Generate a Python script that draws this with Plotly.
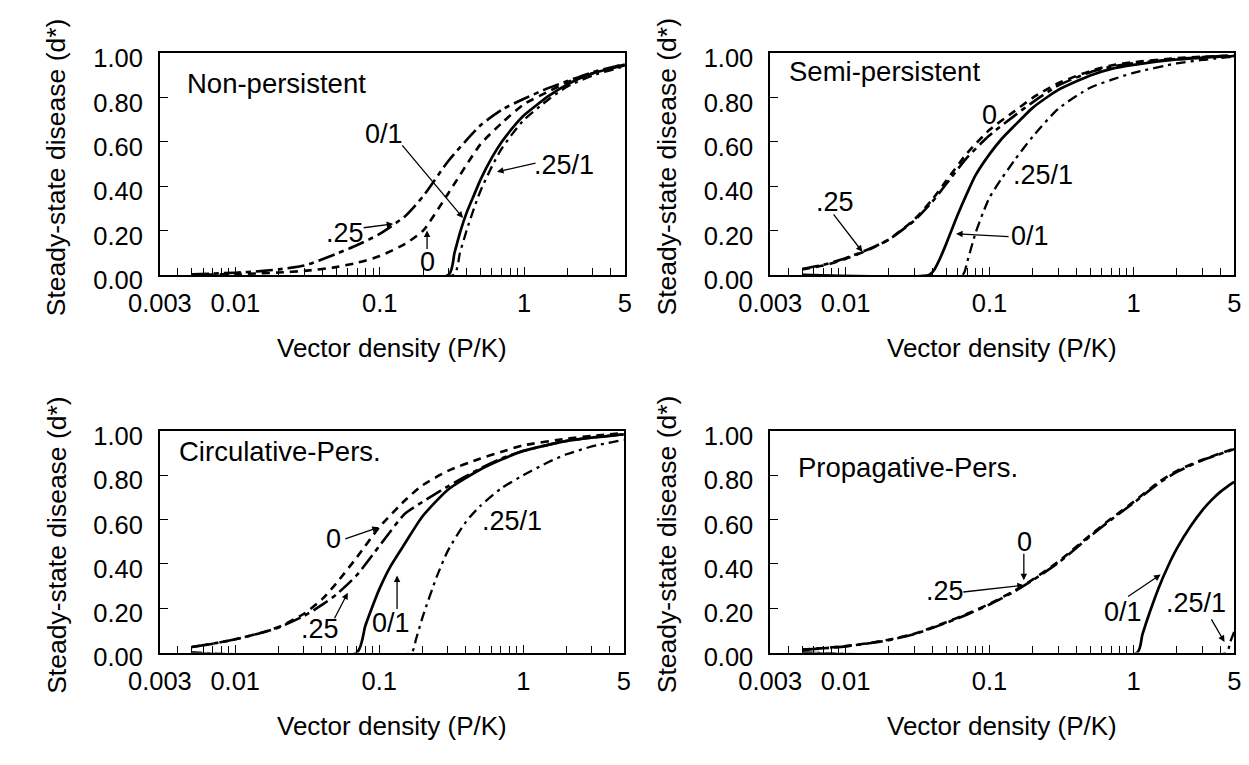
import numpy as np
import plotly.graph_objects as go

W, H = 1249, 765
FONT = "Liberation Sans, Arial, Helvetica, sans-serif"

# ---------------- data ----------------
panel_names = ["Non-persistent", "Semi-persistent", "Circulative-Pers.", "Propagative-Pers."]
curve_names = ["0", ".25", "0/1", ".25/1"]

# Panel 1: Non-persistent
np_x_dash = [0.005, 0.007, 0.01, 0.015, 0.02, 0.03, 0.05, 0.07, 0.1, 0.15, 0.2, 0.3, 0.5, 0.7, 1, 1.5, 2, 3, 5]
np_y_0    = [0.001, 0.002, 0.004, 0.007, 0.011, 0.018, 0.035, 0.055, 0.085, 0.14, 0.20, 0.37, 0.59, 0.685, 0.77, 0.83, 0.87, 0.91, 0.95]
np_y_025  = [0.003, 0.006, 0.010, 0.017, 0.025, 0.042, 0.095, 0.135, 0.185, 0.265, 0.355, 0.515, 0.675, 0.745, 0.795, 0.845, 0.875, 0.915, 0.952]
np_x_01   = [0.005, 0.30, 0.33, 0.36, 0.40, 0.45, 0.50, 0.60, 0.70, 0.85, 1, 1.5, 2, 3, 5]
np_y_01   = [0.0, 0.0, 0.10, 0.19, 0.28, 0.36, 0.43, 0.53, 0.60, 0.67, 0.72, 0.81, 0.86, 0.91, 0.945]
np_x_251  = [0.005, 0.325, 0.36, 0.40, 0.45, 0.50, 0.60, 0.70, 0.85, 1, 1.5, 2, 3, 5]
np_y_251  = [0.0, 0.0, 0.10, 0.20, 0.30, 0.38, 0.49, 0.57, 0.645, 0.70, 0.795, 0.85, 0.90, 0.942]

# Panel 2: Semi-persistent
sp_x_dash = [0.005, 0.007, 0.01, 0.015, 0.02, 0.03, 0.04, 0.05, 0.07, 0.1, 0.15, 0.2, 0.3, 0.5, 0.7, 1, 2, 3, 5]
sp_y_0    = [0.025, 0.042, 0.072, 0.118, 0.16, 0.25, 0.34, 0.425, 0.55, 0.655, 0.74, 0.80, 0.865, 0.92, 0.945, 0.96, 0.978, 0.985, 0.99]
sp_y_025  = [0.027, 0.045, 0.075, 0.12, 0.16, 0.245, 0.33, 0.41, 0.53, 0.63, 0.72, 0.78, 0.855, 0.915, 0.94, 0.955, 0.975, 0.983, 0.99]
sp_x_01   = [0.005, 0.038, 0.041, 0.045, 0.05, 0.06, 0.07, 0.08, 0.1, 0.12, 0.15, 0.2, 0.3, 0.5, 0.7, 1, 2, 3, 5]
sp_y_01   = [0.0, 0.0, 0.02, 0.07, 0.14, 0.27, 0.37, 0.45, 0.545, 0.61, 0.675, 0.755, 0.835, 0.90, 0.93, 0.948, 0.972, 0.98, 0.988]
sp_x_251  = [0.005, 0.065, 0.07, 0.08, 0.09, 0.1, 0.12, 0.15, 0.2, 0.3, 0.5, 0.7, 1, 2, 3, 5]
sp_y_251  = [0.0, 0.0, 0.06, 0.19, 0.28, 0.35, 0.43, 0.52, 0.625, 0.75, 0.845, 0.88, 0.912, 0.955, 0.97, 0.985]

# Panel 3: Circulative-persistent
cp_x_dash = [0.005, 0.007, 0.01, 0.015, 0.02, 0.03, 0.04, 0.05, 0.07, 0.1, 0.15, 0.2, 0.3, 0.5, 0.7, 1, 2, 3, 5]
cp_y_0    = [0.025, 0.04, 0.06, 0.088, 0.115, 0.175, 0.24, 0.31, 0.43, 0.565, 0.685, 0.755, 0.82, 0.875, 0.905, 0.935, 0.965, 0.978, 0.99]
cp_y_025  = [0.025, 0.04, 0.06, 0.088, 0.113, 0.165, 0.215, 0.26, 0.35, 0.48, 0.625, 0.68, 0.75, 0.83, 0.875, 0.91, 0.955, 0.97, 0.985]
cp_x_01   = [0.005, 0.07, 0.08, 0.09, 0.1, 0.12, 0.15, 0.2, 0.3, 0.5, 0.7, 1, 2, 3, 5]
cp_y_01   = [0.0, 0.0, 0.12, 0.21, 0.285, 0.39, 0.49, 0.615, 0.735, 0.825, 0.87, 0.91, 0.955, 0.97, 0.985]
cp_x_251  = [0.005, 0.167, 0.18, 0.2, 0.25, 0.3, 0.4, 0.5, 0.7, 1, 1.5, 2, 3, 5]
cp_y_251  = [0.0, 0.0, 0.06, 0.16, 0.34, 0.46, 0.59, 0.66, 0.74, 0.80, 0.86, 0.895, 0.93, 0.96]

# Panel 4: Propagative-persistent
pp_x_dash = [0.005, 0.007, 0.01, 0.015, 0.02, 0.03, 0.05, 0.07, 0.1, 0.15, 0.2, 0.3, 0.5, 0.7, 1, 1.5, 2, 3, 5]
pp_y_0    = [0.013, 0.02, 0.029, 0.044, 0.058, 0.085, 0.137, 0.175, 0.22, 0.28, 0.33, 0.41, 0.53, 0.605, 0.68, 0.77, 0.82, 0.87, 0.92]
pp_y_025  = [0.012, 0.019, 0.028, 0.043, 0.056, 0.083, 0.134, 0.172, 0.217, 0.277, 0.327, 0.405, 0.525, 0.60, 0.675, 0.765, 0.815, 0.868, 0.918]
pp_x_01   = [0.005, 1.06, 1.15, 1.3, 1.5, 1.75, 2, 2.5, 3, 3.5, 4, 4.5, 5]
pp_y_01   = [0.0, 0.0, 0.08, 0.185, 0.295, 0.395, 0.47, 0.572, 0.642, 0.69, 0.725, 0.75, 0.77]
pp_x_251  = [0.005, 4.4, 4.7, 5]
pp_y_251  = [0.0, 0.0, 0.05, 0.095]

x_tick_vals = [0.003, 0.01, 0.1, 1, 5]
x_tick_text = ["0.003", "0.01", "0.1", "1", "5"]
x_minor_vals = [0.004, 0.005, 0.006, 0.007, 0.008, 0.009,
                0.02, 0.03, 0.04, 0.05, 0.06, 0.07, 0.08, 0.09,
                0.2, 0.3, 0.4, 0.5, 0.6, 0.7, 0.8, 0.9, 2, 3, 4]
y_tick_vals = [0.0, 0.2, 0.4, 0.6, 0.8, 1.0]

panels_data = [
    {"0": (np_x_dash, np_y_0), ".25": (np_x_dash, np_y_025), "0/1": (np_x_01, np_y_01), ".25/1": (np_x_251, np_y_251)},
    {"0": (sp_x_dash, sp_y_0), ".25": (sp_x_dash, sp_y_025), "0/1": (sp_x_01, sp_y_01), ".25/1": (sp_x_251, sp_y_251)},
    {"0": (cp_x_dash, cp_y_0), ".25": (cp_x_dash, cp_y_025), "0/1": (cp_x_01, cp_y_01), ".25/1": (cp_x_251, cp_y_251)},
    {"0": (pp_x_dash, pp_y_0), ".25": (pp_x_dash, pp_y_025), "0/1": (pp_x_01, pp_y_01), ".25/1": (pp_x_251, pp_y_251)},
]

# ---------------- layout geometry (pixels) ----------------
# (left, right, top, bottom) of each plot box
boxes = [(132, 612, 46, 276), (762, 1241, 46, 276), (132, 611, 438, 668), (762, 1241, 438, 668)]

line_styles = {
    "0": ("8px,6px", 2.6),
    ".25": ("17px,5px,5px,5px", 2.6),
    "0/1": ("solid", 2.7),
    ".25/1": ("10px,5px,3px,5px", 2.3),
}

# panel title: (left px, center y px)
title_pos = [(158, 77), (779, 65), (150, 459), (789, 476)]

# curve labels: (text, cx px, cy px)
labels = [
    [("0/1", 363, 130), (".25", 323, 232), ("0", 408, 263), (".25/1", 549, 162)],
    [("0", 988, 110), (".25", 829, 200), (".25/1", 1044, 172), ("0/1", 1030, 236)],
    [("0", 311, 550), (".25", 297, 644), ("0/1", 371, 637), (".25/1", 495, 531)],
    [("0", 1024, 553), (".25", 942, 604), ("0/1", 1126, 626), (".25/1", 1202, 617)],
]

# arrows: (tip x data, tip y data, tail dx px, tail dy px)
arrows = [
    [(0.378, 0.257, -62, -74), (0.124, 0.23, -31, 4), (0.213, 0.20, 0, 20), (0.65, 0.465, 40, -9)],
    [(0.0131, 0.104, -30, -39), (0.0586, 0.186, 54, 3)],
    [(0.0993, 0.565, -35, 12), (0.0605, 0.27, -14, 27), (0.133, 0.348, 0, 35)],
    [(0.173, 0.326, 0, -28), (0.173, 0.304, -62, 7), (1.54, 0.352, -34, 23), (4.28, 0.048, -14, -24)],
]

def px(x):
    return x / W

def py(y):
    return 1 - y / H

fig = go.Figure()
layout = dict(
    width=W, height=H, margin=dict(l=0, r=0, t=0, b=0),
    paper_bgcolor="white", plot_bgcolor="white", showlegend=False,
    font=dict(family=FONT, color="black"),
)
annotations = []

for i, (l, r, t, b) in enumerate(boxes):
    k = "" if i == 0 else str(i + 1)
    xa, ya = "x" + k, "y" + k
    for name in curve_names:
        xs, ys = panels_data[i][name]
        dash, lw = line_styles[name]
        fig.add_trace(go.Scatter(
            x=xs, y=ys, xaxis=xa, yaxis=ya, mode="lines",
            line=dict(color="black", width=lw, dash=dash, shape="spline", smoothing=0.6),
            hoverinfo="skip", showlegend=False,
        ))
    layout["xaxis" + k] = dict(
        type="log", range=[np.log10(0.003), np.log10(5)], domain=[px(l), px(r)], anchor=ya,
        showline=True, linecolor="black", linewidth=1.6, mirror=True,
        showgrid=False, zeroline=False,
        tickmode="array", tickvals=x_tick_vals, ticktext=x_tick_text,
        ticks="inside", ticklen=8, tickwidth=1.4, tickcolor="black",
        minor=dict(tickmode="array", tickvals=x_minor_vals, ticks="inside", ticklen=7,
                   tickwidth=1.2, tickcolor="black", showgrid=False),
        tickfont=dict(size=25.5, family=FONT, color="black"),
        ticklabelstandoff=5,
    )
    layout["yaxis" + k] = dict(
        range=[0, 1], domain=[py(b), py(t)], anchor=xa,
        showline=True, linecolor="black", linewidth=1.6, mirror=True,
        showgrid=False, zeroline=False,
        tickmode="array", tickvals=y_tick_vals, tickformat=".2f",
        ticks="inside", ticklen=8, tickwidth=1.4, tickcolor="black",
        tickfont=dict(size=25.5, family=FONT, color="black"),
        ticklabelstandoff=10, ticklabelshift=5,
    )
    # axis titles
    annotations.append(dict(
        text="Steady-state disease (d*)", xref="paper", yref="paper",
        x=px(l - 107), y=py((t + b) / 2 + 3), textangle=-90, showarrow=False,
        xanchor="center", yanchor="middle", font=dict(size=26.5, family=FONT, color="black"),
    ))
    annotations.append(dict(
        text="Vector density (P/K)", xref="paper", yref="paper",
        x=px((l + r) / 2), y=py(b + 76), showarrow=False,
        xanchor="center", yanchor="middle", font=dict(size=26, family=FONT, color="black"),
    ))
    # panel title
    tx, ty = title_pos[i]
    annotations.append(dict(
        text=panel_names[i], xref="paper", yref="paper", x=px(tx), y=py(ty),
        showarrow=False, xanchor="left", yanchor="middle",
        font=dict(size=27.5, family=FONT, color="black"),
    ))
    # curve labels
    for (txt, cx, cy) in labels[i]:
        annotations.append(dict(
            text=txt, xref="paper", yref="paper", x=px(cx), y=py(cy),
            showarrow=False, xanchor="center", yanchor="middle",
            font=dict(size=27, family=FONT, color="black"),
        ))
    # arrows
    for (ax_, ay_, dx, dy) in arrows[i]:
        annotations.append(dict(
            text="", xref=xa, yref=ya, x=np.log10(ax_), y=ay_,
            showarrow=True, ax=dx, ay=dy, arrowhead=2, arrowsize=1.0,
            arrowwidth=1.3, arrowcolor="black", standoff=0, startstandoff=0,
        ))

layout["annotations"] = annotations
fig.update_layout(**layout)
fig.write_html("out.html")
